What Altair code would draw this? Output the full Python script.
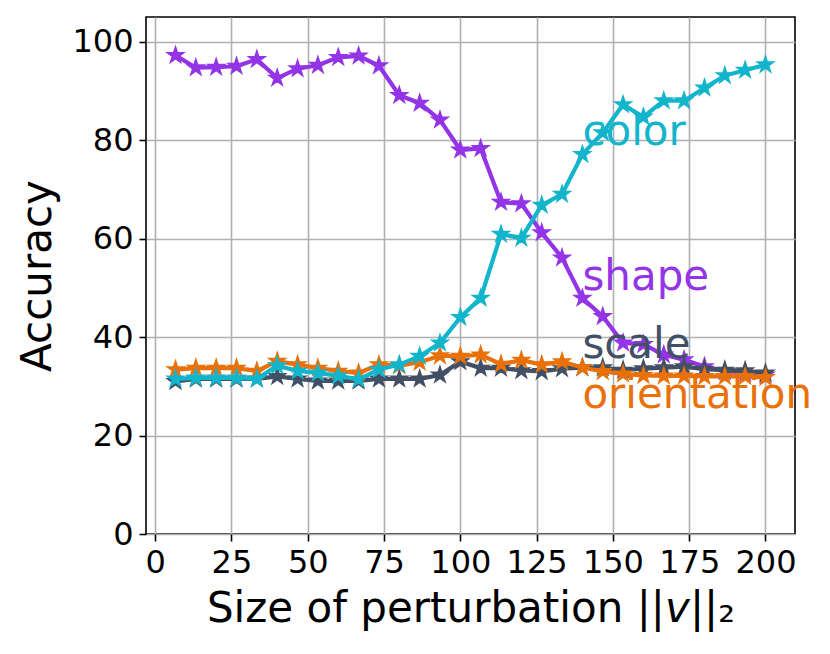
import altair as alt
import pandas as pd

x_vals = [6.67, 13.33, 20.0, 26.67, 33.33, 40.0, 46.67, 53.33, 60.0, 66.67,
          73.33, 80.0, 86.67, 93.33, 100.0, 106.67, 113.33, 120.0, 126.67, 133.33,
          140.0, 146.67, 153.33, 160.0, 166.67, 173.33, 180.0, 186.67, 193.33, 200.0]

shape_acc = [97.2, 94.7, 94.8, 95.0, 96.4, 92.6, 94.5, 95.2, 96.8, 97.1,
             95.1, 89.1, 87.5, 84.1, 78.0, 78.3, 67.4, 67.1, 61.2, 56.1,
             47.9, 44.2, 38.8, 38.5, 36.4, 35.4, 34.0, 33.0, 32.6, 32.3]

color_acc = [31.5, 31.7, 31.7, 31.7, 31.5, 34.2, 33.1, 32.7, 32.1, 31.4,
             33.4, 34.4, 36.1, 38.8, 44.0, 47.9, 60.9, 60.1, 66.8, 69.0,
             77.1, 81.5, 87.2, 84.7, 88.0, 88.0, 90.6, 93.1, 94.2, 95.3]

scale_acc = [31.0, 31.5, 31.5, 31.5, 31.5, 32.0, 31.5, 31.1, 31.1, 31.1,
             31.5, 31.5, 31.5, 32.3, 35.0, 33.7, 33.7, 33.2, 33.0, 33.6,
             33.8, 33.8, 33.3, 33.6, 33.8, 34.0, 33.5, 33.3, 33.2, 32.7]

orient_acc = [33.4, 33.7, 33.7, 33.7, 33.1, 35.1, 34.4, 33.7, 33.1, 32.7,
              34.4, 34.2, 34.9, 36.2, 36.1, 36.4, 34.5, 35.3, 34.4, 35.0,
              33.8, 33.0, 32.5, 32.2, 32.1, 32.1, 32.0, 32.0, 32.0, 31.8]

series_names = ["shape", "scale", "orientation", "color"]
series_colors = ["#9334E6", "#425066", "#E8710A", "#12B5CB"]
series_values = [shape_acc, scale_acc, orient_acc, color_acc]

label_x = [140, 140, 140, 140]
label_y = [49.6, 35.8, 25.6, 79.1]

STAR = ("M0,-1L0.2245,-0.309L0.9511,-0.309L0.3633,0.118L0.5878,0.809L0,0.382"
        "L-0.5878,0.809L-0.3633,0.118L-0.9511,-0.309L-0.2245,-0.309Z")

xscale = alt.Scale(domain=[-3, 209.67], nice=False, zero=False)
yscale = alt.Scale(domain=[0, 105], nice=False, zero=False)

x_axis = alt.Axis(values=[0, 25, 50, 75, 100, 125, 150, 175, 200],
                  title="Size of perturbation ||\U0001D637||\u2082")
y_axis = alt.Axis(values=[0, 20, 40, 60, 80, 100], title="Accuracy")

layers = []
for name, col, vals in zip(series_names, series_colors, series_values):
    df = pd.DataFrame({"x": x_vals, "acc": vals})
    base = alt.Chart(df).encode(
        x=alt.X("x:Q", scale=xscale, axis=x_axis),
        y=alt.Y("acc:Q", scale=yscale, axis=y_axis),
    )
    layers.append(base.mark_line(color=col, strokeWidth=4.2))
    layers.append(base.mark_point(shape=STAR, size=240, filled=True, color=col,
                                  opacity=1, stroke=col, strokeWidth=2))

lab_df = pd.DataFrame({"name": series_names, "lx": label_x, "ly": label_y,
                       "col": series_colors})
labels = alt.Chart(lab_df).mark_text(
    align="left", baseline="alphabetic", fontSize=42, font="DejaVu Sans"
).encode(
    x=alt.X("lx:Q", scale=xscale, axis=x_axis),
    y=alt.Y("ly:Q", scale=yscale, axis=y_axis),
    text="name:N",
    color=alt.Color("col:N", scale=None, legend=None),
)
layers.append(labels)

chart = alt.layer(*layers).properties(
    width=649, height=517,
    padding={"left": 138, "top": 9, "right": 27, "bottom": 100},
    autosize=alt.AutoSizeParams(type="none"),
).configure_view(
    stroke="black", strokeWidth=1.6
).configure_axis(
    grid=True, gridColor="#b0b0b0", gridWidth=1.6,
    domain=False,
    ticks=True, tickColor="black", tickSize=7, tickWidth=1.6,
    labelFont="DejaVu Sans", labelFontSize=32, labelColor="black",
    labelPadding=6,
    titleFont="DejaVu Sans", titleFontSize=42, titleFontWeight="normal",
    titleColor="black",
).configure_axisX(
    titlePadding=10, labelFlush=False
).configure_axisY(
    titlePadding=12, labelFlush=False
)

chart.save("out.html", embed_options={"renderer": "svg", "actions": False})
